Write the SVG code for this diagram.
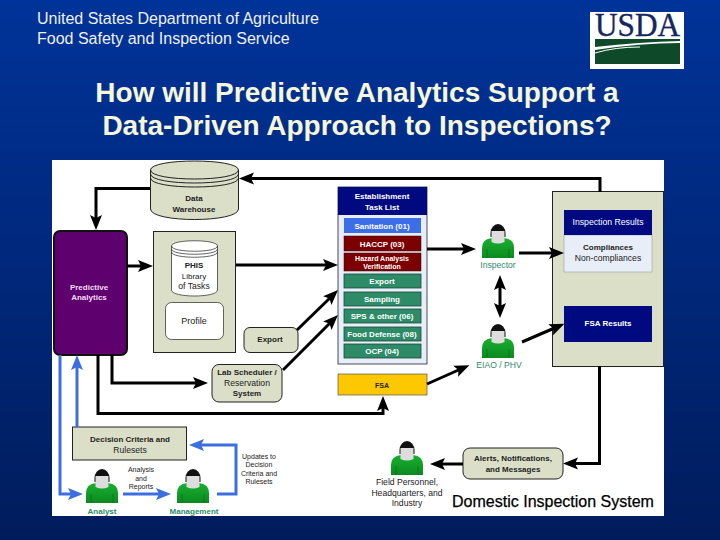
<svg xmlns="http://www.w3.org/2000/svg" width="720" height="540" viewBox="0 0 720 540">
<style>
text{font-family:"Liberation Sans",Arial,sans-serif;text-anchor:middle}
.s{font-size:8.6px;fill:#222}
.b{font-size:8px;font-weight:bold;fill:#222}
.w{font-size:8.7px;fill:#fff}
.wb{font-size:8px;font-weight:bold;fill:#fff}
.g{font-size:8.6px;fill:#2e8b68}
.t{font-size:28px;font-weight:bold;fill:#f6f6d8}
.h{font-size:16px;fill:#eef0f0;text-anchor:start}
.box{fill:#dcdfc8;stroke:#222;stroke-width:1}
.hd{fill:#000a80}
.grn{fill:#2e8b68;stroke:#184a38;stroke-width:.8}
.red{fill:#7d0000;stroke:#3a0000;stroke-width:.5}
.k{fill:none;stroke:#000;stroke-width:3}
.bl{fill:none;stroke:#3c6ee0;stroke-width:3}
.sm{font-size:7px}
</style>
<defs>
<linearGradient id="bg" x1="0" y1="0" x2="0" y2="1"><stop offset="0" stop-color="#003399"/><stop offset="1" stop-color="#001c5c"/></linearGradient>
<linearGradient id="gr" x1="0" y1="0" x2="0" y2="1"><stop offset="0" stop-color="#18b030"/><stop offset="1" stop-color="#0c8a20"/></linearGradient>
<marker id="a" markerUnits="userSpaceOnUse" markerWidth="18" markerHeight="16" refX="8" refY="8" orient="auto-start-reverse"><path d="M0,2 L15,8 L0,14 L3,8Z" fill="#000"/></marker>
<marker id="c" markerUnits="userSpaceOnUse" markerWidth="18" markerHeight="16" refX="8" refY="8" orient="auto"><path d="M0,2 L15,8 L0,14 L3,8Z" fill="#3c6ee0"/></marker>
<g id="person">
<path d="M-16,34 V24 Q-16,15 -6,14 H6 Q16,15 16,24 V34Z" fill="url(#gr)"/>
<path d="M-11,34 V25 M11,34 V25" stroke="#0a6a18" stroke-width=".7" fill="none"/>
<path d="M-7.500,9 A7.500,9 0 0 1 7.500,9 L7.500,13 H-7.500Z" fill="#111"/>
<path d="M-6.500,7 H6.500 V18 Q0,21 -6.500,18Z" fill="#ddd"/>
</g>
</defs>
<rect width="720" height="540" fill="url(#bg)"/>
<text class="h" x="37" y="24">United States Department of Agriculture</text>
<text class="h" x="37" y="44">Food Safety and Inspection Service</text>
<text class="t" x="357" y="102">How will Predictive Analytics Support a</text>
<text class="t" x="357" y="135">Data-Driven Approach to Inspections?</text>
<g id="usda-logo">
<rect x="590" y="12" width="94" height="57" fill="#fff"/>
<text x="637.500" y="36" style="font-family:'Liberation Serif',serif;font-size:33px;fill:#14275f;stroke:#14275f;stroke-width:.4" textLength="85" lengthAdjust="spacingAndGlyphs">USDA</text>
<path d="M595,39 H680 V41 Q640,42 595,47Z" fill="#0e4a2a"/>
<path d="M595,50 Q640,43 680,43 V64 H595Z" fill="#0e4a2a"/>
<path d="M595,53 Q615,47 640,47" fill="none" stroke="#fff" stroke-width="1"/>
</g>
<rect x="52" y="160" width="612" height="356" fill="#fff"/>
<g id="data-warehouse">
<path class="box" d="M150.500,170 C150.500,158 238.500,158 238.500,170 V209 C238.500,223 150.500,223 150.500,209Z"/>
<path d="M150.500,170 C150.500,182 238.500,182 238.500,170 M150.500,174 C150.500,186 238.500,186 238.500,174 M150.500,178 C150.500,190 238.500,190 238.500,178" fill="none" stroke="#222"/>
<text class="b" x="194" y="201">Data</text><text class="b" x="194" y="212">Warehouse</text>
</g>
<g id="predictive-analytics">
<rect x="54" y="231" width="73" height="124" rx="6" fill="#5f006f" stroke="#111" stroke-width="2"/>
<text class="wb" x="89" y="290" style="fill:#f3dcf3">Predictive</text><text class="wb" x="89" y="300" style="fill:#f3dcf3">Analytics</text>
</g>
<g id="phis">
<rect class="box" x="153.500" y="231.500" width="82" height="121"/>
<path d="M171.500,246 C171.500,239 217.500,239 217.500,246 V290 C217.500,298 171.500,298 171.500,290Z" fill="#fff" stroke="#222" stroke-width=".7"/>
<path d="M171.500,246 C171.500,253 217.500,253 217.500,246 M171.500,249 C171.500,256 217.500,256 217.500,249 M171.500,252 C171.500,259 217.500,259 217.500,252" fill="none" stroke="#222" stroke-width=".7"/>
<text class="b" x="194" y="268">PHIS</text><text class="s" x="194" y="279" style="font-size:8px">Library</text><text class="s" x="194" y="289">of Tasks</text>
</g>
<g id="profile">
<rect x="165.500" y="302.500" width="58" height="37" rx="6" fill="#fff" stroke="#222" stroke-width=".7"/>
<text class="s" x="194" y="324" style="font-size:9px">Profile</text>
</g>
<g id="export"><rect class="box" x="244" y="327.500" width="54" height="25" rx="6"/><text class="b" x="270" y="342">Export</text></g>
<g id="task-list">
<rect x="338" y="187" width="89" height="177" fill="#e8eef8" stroke="#223" stroke-width=".8"/>
<rect class="hd" x="338" y="187" width="89" height="28"/>
<text class="wb" x="382" y="199">Establishment</text><text class="wb" x="382" y="210">Task List</text>
<rect x="344" y="218" width="77" height="15" fill="#3c6ee8"/><text class="wb" x="382" y="229">Sanitation (01)</text>
<rect class="red" x="344" y="236" width="77" height="15"/><text class="wb" x="382" y="246.500">HACCP (03)</text>
<rect class="red" x="344" y="253" width="77" height="18"/><text class="wb sm" x="382" y="260.500">Hazard Analysis</text><text class="wb sm" x="382" y="269">Verification</text>
<rect class="grn" x="344" y="274" width="77" height="14"/><text class="wb" x="382" y="284">Export</text>
<rect class="grn" x="344" y="292" width="77" height="14"/><text class="wb" x="382" y="301.500">Sampling</text>
<rect class="grn" x="344" y="309" width="77" height="14"/><text class="wb" x="382" y="319">SPS &amp; other (06)</text>
<rect class="grn" x="344" y="327" width="77" height="14"/><text class="wb" x="382" y="336.500">Food Defense (08)</text>
<rect class="grn" x="344" y="344" width="77" height="14"/><text class="wb" x="382" y="354">OCP (04)</text>
</g>
<g id="fsa"><rect x="338" y="374" width="89" height="21" fill="#fdc800" stroke="#555" stroke-width=".7"/><text class="b sm" x="382" y="388">FSA</text></g>
<g id="results-panel">
<rect class="box" x="552.500" y="191.500" width="111" height="175"/>
<rect x="564" y="235" width="88" height="37" fill="#e8eef8" stroke="#999" stroke-width=".6"/>
<rect class="hd" x="564" y="210" width="88" height="25"/>
<text class="w" x="608" y="225">Inspection Results</text>
<text class="b" x="608" y="250">Compliances</text><text class="s" x="608" y="261">Non-compliances</text>
<rect class="hd" x="564" y="306" width="88" height="36"/>
<text class="wb" x="608" y="326">FSA Results</text>
</g>
<g id="inspector"><use href="#person" x="498" y="224"/><text class="g" x="498" y="268">Inspector</text></g>
<g id="eiao"><use href="#person" x="498" y="324"/><text class="g" x="499" y="368">EIAO / PHV</text></g>
<g id="lab-scheduler"><rect class="box" x="212" y="364.500" width="70" height="37.500" rx="7"/>
<text class="b" x="247" y="375">Lab Scheduler /</text><text class="s" x="247" y="385.500">Reservation</text><text class="b" x="247" y="396">System</text></g>
<g id="decision"><rect class="box" x="72.500" y="427" width="114" height="33"/>
<text class="b" x="130" y="442">Decision Criteria and</text><text class="s" x="130" y="453">Rulesets</text></g>
<g id="analyst"><use href="#person" x="102" y="469"/><text class="g" x="102" y="514" style="font-weight:bold;font-size:8px">Analyst</text></g>
<g id="management"><use href="#person" x="193" y="469"/><text class="g" x="194" y="514" style="font-weight:bold;font-size:8px">Management</text></g>
<g id="labels">
<text class="s sm" x="141" y="472">Analysis</text><text class="s sm" x="141" y="481">and</text><text class="s sm" x="141" y="489">Reports</text>
<text class="s sm" x="259" y="459">Updates to</text><text class="s sm" x="259" y="467">Decision</text><text class="s sm" x="259" y="476">Criteria and</text><text class="s sm" x="259" y="484">Rulesets</text>
</g>
<g id="alerts"><rect class="box" x="463" y="448" width="100" height="31" rx="7"/>
<text class="b" x="513" y="461">Alerts, Notifications,</text><text class="b" x="513" y="471.500">and Messages</text></g>
<g id="field"><use href="#person" x="407" y="441"/>
<text class="s" x="407" y="485">Field Personnel,</text><text class="s" x="407" y="496">Headquarters, and</text><text class="s" x="407" y="506">Industry</text></g>
<text x="553" y="507" style="font-size:16px;fill:#000;stroke:#000;stroke-width:.25">Domestic Inspection System</text>
<g id="connectors">
<path class="k" marker-end="url(#a)" d="M600,192 V178.500 H246"/>
<path class="k" marker-end="url(#a)" d="M150,188.500 H96 V223"/>
<path class="k" marker-end="url(#a)" d="M127,266 H146"/>
<path class="k" marker-end="url(#a)" d="M236,265 H331"/>
<path class="k" marker-end="url(#a)" d="M297,330 L333,295"/>
<path class="k" marker-end="url(#a)" d="M283,370 L333,320"/>
<path class="k" marker-end="url(#a)" d="M427,249 H469"/>
<path class="k" marker-end="url(#a)" d="M519,253 H557"/>
<path class="k" marker-start="url(#a)" marker-end="url(#a)" d="M500,282 V311"/>
<path class="k" marker-end="url(#a)" d="M522,342 L558,326.500"/>
<path class="k" marker-end="url(#a)" d="M427,384 L463,368"/>
<path class="k" marker-end="url(#a)" d="M98,355 V413.500 H383 V403"/>
<path class="k" marker-end="url(#a)" d="M112,355 V383 H201"/>
<path class="k" marker-end="url(#a)" d="M599.500,366 V463.500 H570"/>
<path class="k" marker-end="url(#a)" d="M463,464 H437"/>
<path class="bl" marker-end="url(#c)" d="M60,355 V494 H76"/>
<path class="bl" marker-end="url(#c)" d="M77,427 V362"/>
<path class="bl" marker-end="url(#c)" d="M123,494 H164"/>
<path class="bl" marker-end="url(#c)" d="M217,494 H236 V445 H196"/>
</g>
</svg>
